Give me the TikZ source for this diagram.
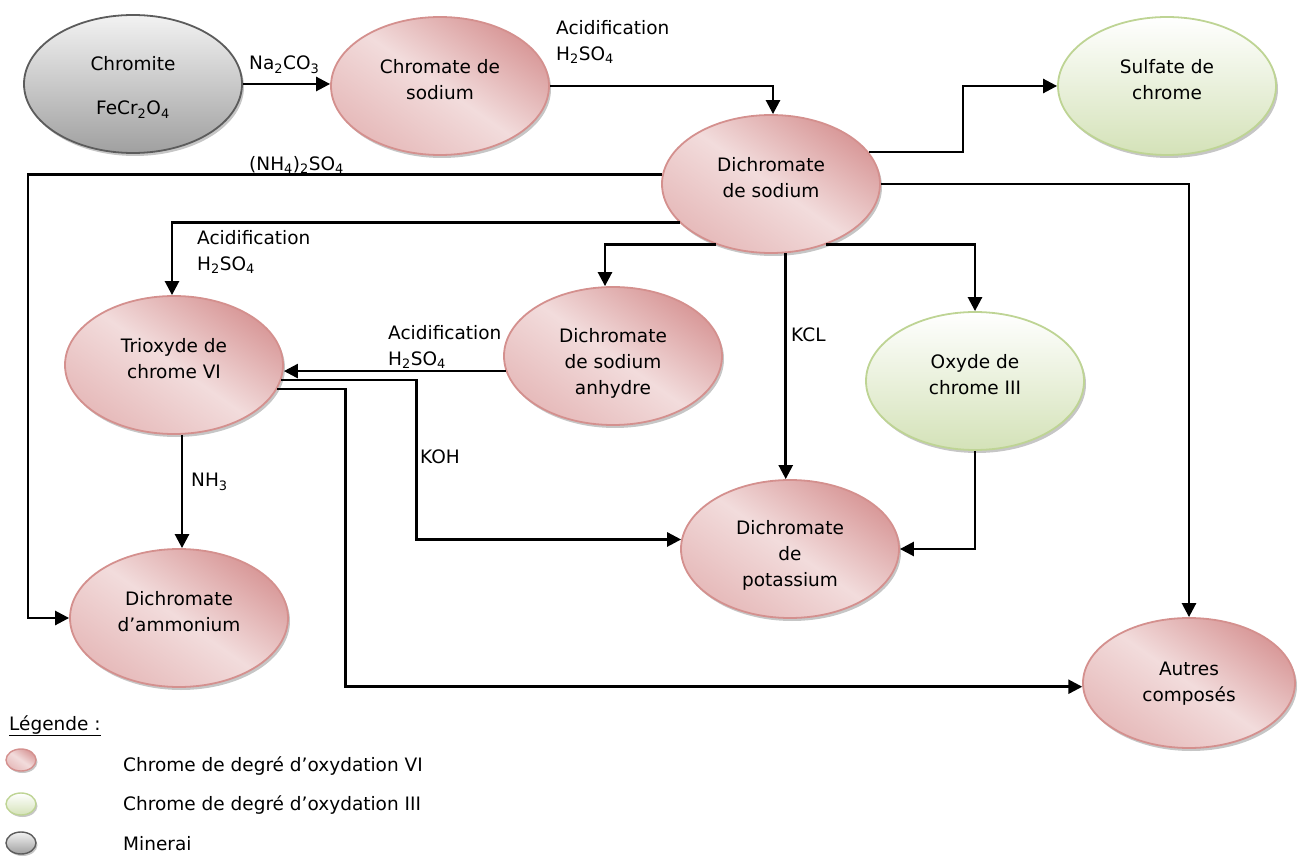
\documentclass[tikz,border=0pt]{standalone}
\usepackage{fontspec}
\setmainfont{DejaVu Sans}
\usetikzlibrary{arrows.meta, shapes.geometric, shadows}
\definecolor{rougebord}{RGB}{212,144,142}
\definecolor{rougefonce}{RGB}{216,152,152}
\definecolor{rougeclair}{RGB}{242,220,220}
\definecolor{rougemoyen}{RGB}{230,186,186}
\definecolor{vertbord}{RGB}{190,212,148}
\definecolor{vertfonce}{RGB}{212,226,184}
\definecolor{grisbord}{RGB}{92,92,92}
\definecolor{grisfonce}{RGB}{160,160,160}
\tikzset{>={Triangle[length=14pt,width=14pt]}}
\tikzset{
  espece/.style={ellipse, minimum width=218pt, minimum height=138pt,
    inner sep=0pt, line width=1.8pt, align=center,
    drop shadow={shadow xshift=2pt, shadow yshift=-3pt, fill=black!50, opacity=.45}},
  puce/.style={ellipse, minimum width=30pt, minimum height=22pt,
    inner sep=0pt, line width=1.4pt,
    drop shadow={shadow xshift=1.5pt, shadow yshift=-2pt, fill=black!50, opacity=.45}},
  rouge/.style={draw=rougebord, top color=rougefonce, bottom color=rougemoyen,
    middle color=rougeclair, shading angle=-35},
  vert/.style={draw=vertbord, top color=white, bottom color=vertfonce},
  gris/.style={draw=grisbord, top color=white!95!black, bottom color=grisfonce},
  fleche/.style={->, line width=2.6pt},
  reactif/.style={anchor=north west, inner sep=0pt, align=left}
}
\newcommand{\indice}[1]{\textsubscript{#1}}
\newcommand{\etiq}[2][0pt]{\raisebox{#1}[0pt][0pt]{\begin{tabular}{@{}c@{}}#2\end{tabular}}}

\begin{document}
\begin{tikzpicture}[x=1pt, y=-1pt,
    every node/.style={font=\fontsize{18.5}{26}\selectfont}]
  \useasboundingbox (0,0) rectangle (1298,858);

  % especes
  \node[espece, gris] (chromite) at (133,84) {\etiq[-8pt]{Chromite\\[18pt]FeCr\indice{2}O\indice{4}}};
  \node[espece, rouge] (chromate) at (440,86) {\etiq{Chromate de\\sodium}};
  \node[espece, vert] (sulfate) at (1167,86) {\etiq{Sulfate de\\chrome}};
  \node[espece, rouge] (dichNa) at (771,184) {\etiq{Dichromate\\de sodium}};
  \node[espece, rouge] (trioxyde) at (174,365) {\etiq{Trioxyde de\\chrome VI}};
  \node[espece, rouge] (anhydre) at (613,356) {\etiq[-12pt]{Dichromate\\de sodium\\anhydre}};
  \node[espece, vert] (oxyde) at (975,381) {\etiq{Oxyde de\\chrome III}};
  \node[espece, rouge] (potassium) at (790,549) {\etiq[-11pt]{Dichromate\\de\\potassium}};
  \node[espece, rouge] (ammonium) at (179,618) {\etiq{Dichromate\\d’ammonium}};
  \node[espece, rouge, minimum width=212pt, minimum height=130pt] (autres) at (1189,683) {\etiq[-5pt]{Autres\\composés}};

  % reactions
  \draw[fleche] (chromite.east) -- (chromite.east -| chromate.west);
  \draw[fleche] (chromate.east) -| ([xshift=2pt]dichNa.north);
  \draw[fleche] (dichNa.18) -- ++(94,0) |- (sulfate.west);
  \draw[fleche] (dichNa.east) -| (autres.north);
  \draw[fleche] (dichNa.175) -| ([xshift=-41pt]ammonium.west) -- (ammonium.west);
  \draw[fleche] (dichNa.203) -| ([xshift=-2pt]trioxyde.north);
  \draw[fleche] (dichNa.228) -| ([xshift=-8pt]anhydre.north);
  \draw[fleche] (dichNa.-48) -| (oxyde.north);
  \draw[fleche] (dichNa.-78) -- (dichNa.-78 |- potassium.north);
  \draw[fleche] (anhydre.188) -- (anhydre.188 -| trioxyde.east);
  \draw[fleche] (trioxyde.-8) -- ++(135,0) |- (potassium.175);
  \draw[fleche] (trioxyde.-13) -- ++(68,0) |- (autres.182);
  \draw[fleche] ([xshift=8pt]trioxyde.south) -- ([xshift=8pt]trioxyde.south |- ammonium.north);
  \draw[fleche] (oxyde.south) |- (potassium.east);

  % reactifs
  \node[reactif] (naco) at (249,56) {Na\indice{2}CO\indice{3}};
  \node[reactif] (acidA) at (556,20) {Acidification\\H\indice{2}SO\indice{4}};
  \node[reactif] (sulfam) at (249,156) {(NH\indice{4})\indice{2}SO\indice{4}};
  \node[reactif] (acidB) at (197,230) {Acidification\\H\indice{2}SO\indice{4}};
  \node[reactif] (acidC) at (388,325) {Acidification\\H\indice{2}SO\indice{4}};
  \node[reactif] (kcl) at (791,328) {KCL};
  \node[reactif] (koh) at (420,450) {KOH};
  \node[reactif] (nh) at (191,473) {NH\indice{3}};

  % legende
  \node[reactif] (legende) at (9,715) {\underline{Légende :}};
  \node[puce, rouge] (pVI) at (21,760) {};
  \node[puce, vert] (pIII) at (21,804) {};
  \node[puce, gris] (pmin) at (21,843) {};
  \node[reactif] (tVI) at (123,756) {Chrome de degré d’oxydation VI};
  \node[reactif] (tIII) at (123,795) {Chrome de degré d’oxydation III};
  \node[reactif] (tmin) at (123,836) {Minerai};
\end{tikzpicture}
\end{document}
